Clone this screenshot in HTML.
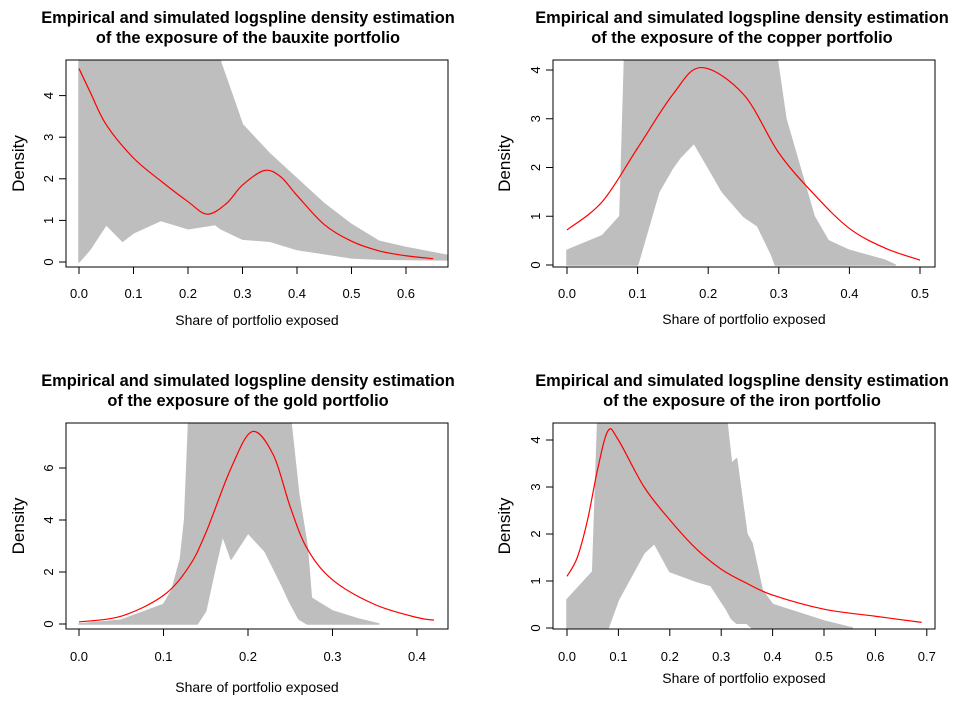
<!DOCTYPE html>
<html><head><meta charset="utf-8"><style>
body{margin:0;background:#fff;}
svg{display:block;font-family:"Liberation Sans",Arial,sans-serif;}
.t{font-weight:bold;font-size:16.4px;text-anchor:middle;fill:#000}
.tk{font-size:13px;fill:#000;text-anchor:middle}
.xl{font-size:14px;text-anchor:middle;fill:#000}
.yl{font-size:17px;text-anchor:middle;fill:#000}
</style></head><body>
<svg id="c" width="965" height="704"></svg>
<script>
// bauxite
const bxX=[0,0.02,0.05,0.1,0.15,0.2,0.235,0.27,0.3,0.34,0.37,0.4,0.45,0.5,0.55,0.6,0.65];
const bxRed=[4.65,4.1,3.3,2.5,1.95,1.45,1.15,1.4,1.85,2.2,2.05,1.6,0.9,0.5,0.27,0.15,0.08];
const bxGX=[0,0.02,0.05,0.08,0.1,0.15,0.2,0.25,0.255,0.26,0.3,0.35,0.4,0.45,0.5,0.55,0.6,0.68];
const bxUp=[6,6,6,6,6,6,6,6,6,4.8,3.3,2.6,2.0,1.4,0.9,0.5,0.35,0.15];
const bxLo=[0,0.3,0.9,0.5,0.7,1.0,0.8,0.9,0.85,0.8,0.55,0.5,0.3,0.2,0.1,0.07,0.06,0.05];
// copper
const cuX=[0,0.05,0.1,0.15,0.19,0.25,0.3,0.35,0.4,0.45,0.5];
const cuRed=[0.72,1.3,2.4,3.5,4.05,3.5,2.3,1.45,0.75,0.35,0.1];
const cuGX=[0,0.05,0.075,0.082,0.1,0.11,0.13,0.15,0.16,0.18,0.2,0.22,0.25,0.27,0.29,0.295,0.31,0.32,0.33,0.35,0.37,0.4,0.45,0.465];
const cuUp=[0.3,0.6,1.0,4.5,4.5,4.5,4.5,4.5,4.5,4.5,4.5,4.5,4.5,4.5,4.5,4.5,3.0,2.5,2.0,1.0,0.5,0.3,0.1,0];
const cuLo=[0,0,0,0,0,0.5,1.5,2.0,2.2,2.5,2.0,1.5,1.0,0.8,0.2,0,0,0,0,0,0,0,0,0];
// gold
const auX=[0,0.05,0.1,0.13,0.15,0.18,0.205,0.23,0.25,0.27,0.3,0.35,0.4,0.42];
const auRed=[0.08,0.3,1.1,2.2,3.5,6.0,7.4,6.5,4.5,2.9,1.7,0.75,0.25,0.15];
const auGX=[0,0.05,0.1,0.11,0.12,0.125,0.13,0.14,0.15,0.16,0.17,0.18,0.2,0.22,0.24,0.25,0.26,0.27,0.275,0.3,0.33,0.355];
const auUp=[0,0.15,0.75,1.3,2.5,4,8,8,8,8,8,8,8,8,8,8,5,3,1.0,0.5,0.2,0];
const auLo=[0,0,0,0,0,0,0,0,0.5,2,3.4,2.5,3.5,2.8,1.5,0.8,0.2,0,0,0,0,0];
// iron
const feX=[0,0.02,0.04,0.06,0.08,0.1,0.15,0.2,0.25,0.3,0.35,0.4,0.5,0.6,0.69];
const feRed=[1.1,1.5,2.3,3.4,4.2,4.0,3.0,2.3,1.7,1.25,0.95,0.7,0.4,0.25,0.12];
const feGX=[0,0.05,0.06,0.08,0.1,0.15,0.17,0.2,0.25,0.28,0.31,0.32,0.33,0.35,0.36,0.38,0.4,0.5,0.555];
const feUp=[0.6,1.2,4.5,4.5,4.5,4.5,4.5,4.5,4.5,4.5,4.5,3.5,3.6,2.0,1.8,0.8,0.5,0.15,0];
const feLo=[0,0,0,0,0.6,1.6,1.8,1.2,1.0,0.9,0.4,0.2,0.1,0.1,0,0,0,0,0];

const xt1=[0,0.1,0.2,0.3,0.4,0.5,0.6], yt1=[0,1,2,3,4];
const xt2=[0,0.1,0.2,0.3,0.4,0.5], yt2=[0,1,2,3,4];
const xt3=[0,0.1,0.2,0.3,0.4], yt3=[0,2,4,6];
const xt4=[0,0.1,0.2,0.3,0.4,0.5,0.6,0.7], yt4=[0,1,2,3,4];

const panels=[
 {name:'bauxite',box:[66,60,448,267],x0:79,xs:545,y0:262,ys:41.6,tx:248,ty:17,lblY:298,xlY:325,ylX:24,rx:bxX,red:bxRed,gx:bxGX,up:bxUp,lo:bxLo,xt:xt1,yt:yt1},
 {name:'copper',box:[553,60,935,267],x0:567,xs:706,y0:265,ys:48.75,tx:742,ty:17,lblY:298,xlY:324,ylX:510,rx:cuX,red:cuRed,gx:cuGX,up:cuUp,lo:cuLo,xt:xt2,yt:yt2},
 {name:'gold',box:[66,423,448,629],x0:79,xs:845,y0:624,ys:26,tx:248,ty:380,lblY:661,xlY:692,ylX:24,rx:auX,red:auRed,gx:auGX,up:auUp,lo:auLo,xt:xt3,yt:yt3},
 {name:'iron',box:[553,423,935,629],x0:567,xs:514,y0:628,ys:47,tx:742,ty:380,lblY:661,xlY:683,ylX:510,rx:feX,red:feRed,gx:feGX,up:feUp,lo:feLo,xt:xt4,yt:yt4}
];
const NS='http://www.w3.org/2000/svg';
const svg=document.getElementById('c');
function mk(tag,attrs,parent,text){const e=document.createElementNS(NS,tag);for(const k in attrs)e.setAttribute(k,attrs[k]);if(text!==undefined)e.textContent=text;(parent||svg).appendChild(e);return e;}
function smooth(P){let d='M'+P[0][0]+' '+P[0][1];
 for(let i=0;i<P.length-1;i++){const p0=P[Math.max(0,i-1)],p1=P[i],p2=P[i+1],p3=P[Math.min(P.length-1,i+2)];
  const c1=[p1[0]+(p2[0]-p0[0])/6,p1[1]+(p2[1]-p0[1])/6],c2=[p2[0]-(p3[0]-p1[0])/6,p2[1]-(p3[1]-p1[1])/6];
  d+='C'+c1.join(' ')+' '+c2.join(' ')+' '+p2.join(' ');}
 return d;}
panels.forEach((p,i)=>{
 const g=mk('g',{});
 
 
 const X=v=>p.x0+v*p.xs, Y=v=>p.y0-v*p.ys;
 const [l,t,r,b]=p.box;
 mk('clipPath',{id:'cl'+i},g); mk('rect',{x:l,y:t,width:r-l,height:b-t},g.lastChild);
 let d='';
 p.gx.forEach((v,k)=>{d+=(k?'L':'M')+X(v)+' '+Y(p.up[k]);});
 for(let k=p.gx.length-1;k>=0;k--) d+='L'+X(p.gx[k])+' '+Y(p.lo[k]);
 const band=mk('path',{d:d+'Z',fill:'#bebebe',stroke:'#bebebe','stroke-width':1.5,'stroke-linejoin':'round','clip-path':'url(#cl'+i+')'},g);
 
 
 const pts=p.rx.map((v,k)=>[X(v),Y(p.red[k])]);
 const rl=mk('path',{d:smooth(pts),fill:'none',stroke:'#ff0000','stroke-width':1.2,'clip-path':'url(#cl'+i+')'},g);
 
 
 mk('rect',{x:l,y:t,width:r-l,height:b-t,fill:'none',stroke:'#000','stroke-width':1},g);
 const ax=mk('g',{},g);
 
 
 mk('line',{x1:X(p.xt[0]),x2:X(p.xt[p.xt.length-1]),y1:b,y2:b,stroke:'#000'},ax);
 p.xt.forEach(v=>{mk('line',{x1:X(v),x2:X(v),y1:b,y2:b+7,stroke:'#000'},ax);
  mk('text',{x:X(v),y:p.lblY,class:'tk'},ax,v.toFixed(1));});
 const xl=mk('text',{x:(l+r)/2,y:p.xlY,class:'xl'},g,'Share of portfolio exposed');
 
 
 const ay=mk('g',{},g);
 
 
 mk('line',{x1:l,x2:l,y1:Y(p.yt[0]),y2:Y(p.yt[p.yt.length-1]),stroke:'#000'},ay);
 p.yt.forEach(v=>{mk('line',{x1:l-7,x2:l,y1:Y(v),y2:Y(v),stroke:'#000'},ay);
  mk('text',{x:l-13,y:Y(v),class:'tk',transform:'rotate(-90 '+(l-13)+' '+Y(v)+')'},ay,String(v));});
 const yl=mk('text',{x:p.ylX,y:(t+b)/2,class:'yl',transform:'rotate(-90 '+p.ylX+' '+((t+b)/2)+')'},g,'Density');
 
 
 const tt=mk('text',{x:p.tx,y:p.ty+6,class:'t'},g);
 
 
 mk('tspan',{x:p.tx},tt,'Empirical and simulated logspline density estimation');
 mk('tspan',{x:p.tx,dy:20},tt,'of the exposure of the '+p.name+' portfolio');
});
</script>
</body></html>
